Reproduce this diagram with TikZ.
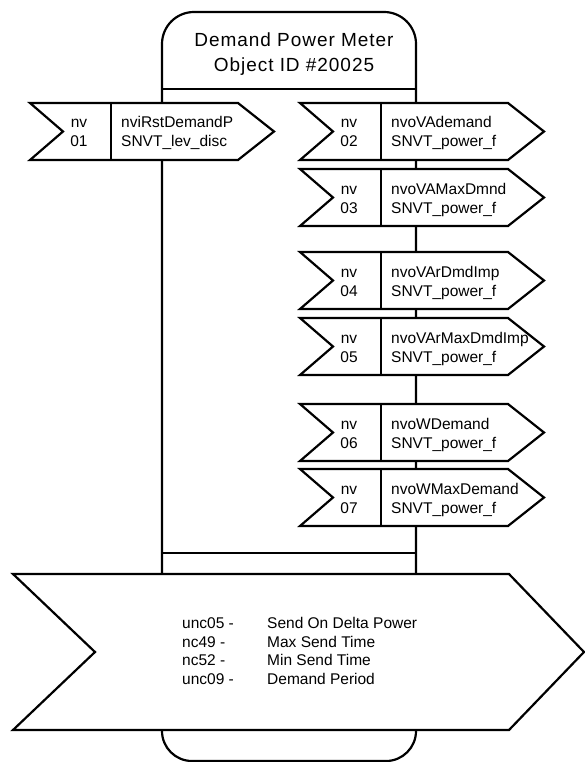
\documentclass[tikz,border=0pt]{standalone}
\usepackage{fontspec}
\setmainfont{Liberation Sans}
\newfontfamily\titlefont[LetterSpace=5]{Liberation Sans}
\tikzset{
  ln/.style={line width=2.2pt, line join=miter},
  thinln/.style={line width=1.8pt},
  txt/.style={font=\fontsize{15.5}{18.5}\selectfont, inner sep=0pt},
  ttl/.style={font=\titlefont\fontsize{19}{24}\selectfont, inner sep=0pt, anchor=base},
}
% #1 name, #2 left x, #3 top y, #4 number, #5 variable, #6 type
\newcommand\NVbox[6]{%
  \begin{scope}[shift={(#2,#3)}]
    \draw[ln, fill=white] (0,0) -- (208,0) -- (244,28.5) -- (208,57) -- (0,57) -- (33,28.5) -- cycle;
    \draw[ln] (81,0) -- (81,57);
    \node[txt, anchor=base] (#1a) at (49,25) {nv};
    \node[txt, anchor=base] (#1b) at (49,44) {#4};
    \node[txt, anchor=base west] (#1c) at (91,25) {#5};
    \node[txt, anchor=base west] (#1d) at (91,44) {#6};
  \end{scope}}
\begin{document}
\begin{tikzpicture}[x=1pt, y=-1pt]
  \useasboundingbox (0,0) rectangle (585,762);
  % object body
  \draw[ln, rounded corners=32pt] (162,574) -- (162,12) -- (416,12) -- (416,574);
  \draw[thinln] (162,89) -- (416,89);
  \draw[thinln] (162,553) -- (416,553);
  \node[ttl] (title1) at (294,47) {Demand Power Meter};
  \node[ttl] (title2) at (294,72) {Object ID \#20025};
  % network variables
  \NVbox{v01}{30}{103}{01}{nviRstDemandP}{SNVT\_lev\_disc}
  \NVbox{v02}{300}{103}{02}{nvoVAdemand}{SNVT\_power\_f}
  \NVbox{v03}{300}{169}{03}{nvoVAMaxDmnd}{SNVT\_power\_f}
  \NVbox{v04}{300}{252}{04}{nvoVArDmdImp}{SNVT\_power\_f}
  \NVbox{v05}{300}{318}{05}{nvoVArMaxDmdImp}{SNVT\_power\_f}
  \NVbox{v06}{300}{404}{06}{nvoWDemand}{SNVT\_power\_f}
  \NVbox{v07}{300}{469}{07}{nvoWMaxDemand}{SNVT\_power\_f}
  % configuration properties
  \draw[ln, fill=white] (13,574) -- (509,574) -- (584,652) -- (509,730) -- (13,730) -- (95,652) -- cycle;
  \node[txt, anchor=base west] (c1a) at (182,628) {unc05 -};
  \node[txt, anchor=base west] (c2a) at (182,647) {nc49 -};
  \node[txt, anchor=base west] (c3a) at (182,665) {nc52 -};
  \node[txt, anchor=base west] (c4a) at (182,684) {unc09 -};
  \node[txt, anchor=base west] (c1b) at (267,628) {Send On Delta Power};
  \node[txt, anchor=base west] (c2b) at (267,647) {Max Send Time};
  \node[txt, anchor=base west] (c3b) at (267,665) {Min Send Time};
  \node[txt, anchor=base west] (c4b) at (267,684) {Demand Period};
  % bottom of body
  \draw[ln, rounded corners=30pt] (162,731) -- (162,761) -- (416,761) -- (416,731);
\end{tikzpicture}
\end{document}
